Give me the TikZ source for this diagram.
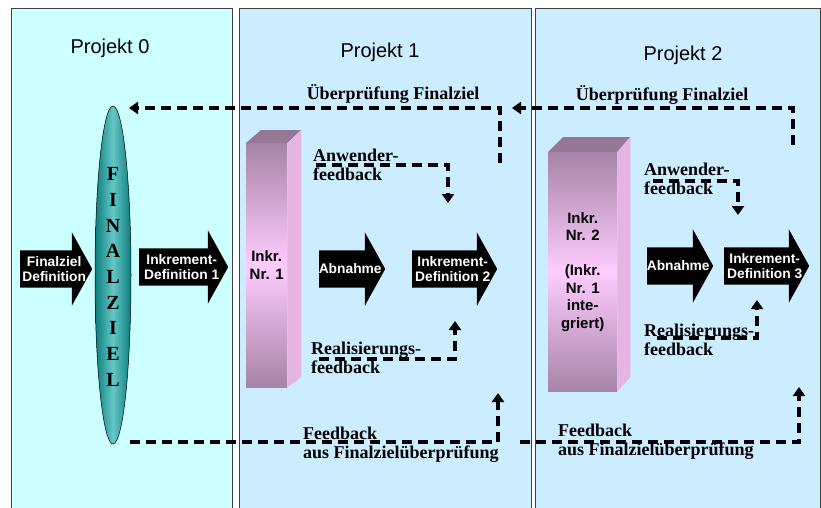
\documentclass[tikz,border=0pt]{standalone}
\usepackage{fontspec}
\setmainfont{Liberation Serif}
\setsansfont{Liberation Sans}
\usetikzlibrary{shapes.geometric,shapes.arrows,arrows.meta,positioning,calc}

\definecolor{pzero}{HTML}{CCFFFF}
\definecolor{pone}{HTML}{CCECFF}
\definecolor{tealdark}{HTML}{0A7E7E}
\definecolor{teallight}{HTML}{66C6C6}
\definecolor{barmauve}{HTML}{A684A6}
\definecolor{barpink}{HTML}{FFCCFF}
\definecolor{bartopcol}{HTML}{967896}
\definecolor{barsidecol}{HTML}{E4B4E2}

\tikzset{
  panel/.style={draw=black!75, line width=0.8pt, anchor=north west, minimum height=510pt, inner sep=0pt},
  title/.style={font=\sffamily\fontsize{20}{24}\selectfont, anchor=base},
  blkarrow/.style={single arrow, fill=black, inner xsep=0pt, inner ysep=18.5pt,
    single arrow head extend=18pt, single arrow tip angle=122, anchor=tail},
  arrtext/.style={text=white, align=center, inner sep=0pt, xshift=-2pt,
    font=\sffamily\bfseries\fontsize{13.8}{15.5}\selectfont},
  barfront/.style={top color=barmauve, bottom color=barmauve, middle color=barpink,
    anchor=north west, inner sep=0pt, align=center,
    font=\sffamily\bfseries\fontsize{15}{17.5}\selectfont},
  fblab/.style={align=left, inner sep=0pt, font=\rmfamily\bfseries\fontsize{18}{19}\selectfont},
  fbline/.style={line width=3.2pt, dash pattern=on 10pt off 6pt, -{Triangle[width=12pt,length=9pt]}}
}

\begin{document}
\begin{tikzpicture}[x=1pt,y=-1pt]
\useasboundingbox (0,0) rectangle (821,507);

% Projekte
\node[panel, fill=pzero, minimum width=221pt] (p0) at (11,8) {};
\node[panel, fill=pone, minimum width=292pt] (p1) at (239,8) {};
\node[panel, fill=pone, minimum width=285pt] (p2) at (535,8) {};
\node[title] (t0) at (110,53) {Projekt 0};
\node[title] (t1) at (380,57) {Projekt 1};
\node[title] (t2) at (683,60) {Projekt 2};

% Inkremente
\node[barfront, minimum width=41pt, minimum height=244pt] (bar1) at (246,143) {Inkr.\\Nr. 1};
\fill[bartopcol] (bar1.north west) -- ++(15,-13) -- ++(40,0) -- (bar1.north east) -- cycle;
\fill[barsidecol] (bar1.north east) -- ++(14,-13) -- ++(0,247) -- (bar1.south east) -- cycle;
\node[barfront, minimum width=69pt, minimum height=239pt] (bar2) at (548,152)
  {Inkr.\\Nr. 2\\[17.5pt](Inkr.\\Nr. 1\\inte-\\griert)};
\fill[bartopcol] (bar2.north west) -- ++(15,-15) -- ++(67,0) -- (bar2.north east) -- cycle;
\fill[barsidecol] (bar2.north east) -- ++(13,-15) -- ++(0,240) -- (bar2.south east) -- cycle;

% Finalziel
\node[ellipse, draw=black, line width=0.5pt, minimum width=36pt, minimum height=338pt,
  left color=tealdark, right color=tealdark, middle color=teallight] (fz) at (113,275) {};
\node[align=center, inner sep=0pt, font=\rmfamily\bfseries\fontsize{20}{25.7}\selectfont]
  (fzt) at (113,277) {F\\I\\N\\A\\L\\Z\\I\\E\\L};

% Blockpfeile
\node[blkarrow, minimum height=72pt] (fdef) at (20,269) {};
\node[arrtext] (fdeft) at ($(fdef.tail)!.5!(fdef.tip)$) {Finalziel\\Definition};
\node[blkarrow, minimum height=89pt] (idef1) at (139,267) {};
\node[arrtext] (idef1t) at ($(idef1.tail)!.5!(idef1.tip)$) {Inkrement-\\Definition 1};
\node[blkarrow, minimum height=66pt] (abn1) at (319,269) {};
\node[arrtext] (abn1t) at ($(abn1.tail)!.5!(abn1.tip)$) {Abnahme};
\node[blkarrow, minimum height=85pt] (idef2) at (412,269) {};
\node[arrtext] (idef2t) at ($(idef2.tail)!.5!(idef2.tip)$) {Inkrement-\\Definition 2};
\node[blkarrow, minimum height=66pt] (abn2) at (647,266) {};
\node[arrtext] (abn2t) at ($(abn2.tail)!.5!(abn2.tip)$) {Abnahme};
\node[blkarrow, minimum height=85pt] (idef3) at (724,266) {};
\node[arrtext] (idef3t) at ($(idef3.tail)!.5!(idef3.tip)$) {Inkrement-\\Definition 3};

% Rueckkopplungen
\coordinate (ueb1s) at (500,163);  \coordinate (ueb1e) at (129,108);
\coordinate (ueb2s) at (793,145);  \coordinate (ueb2e) at (512,108);
\coordinate (anw1s) at (316,165);  \coordinate (anw1e) at (448,203);
\coordinate (anw2s) at (653,181);  \coordinate (anw2e) at (738,215);
\coordinate (rea1s) at (319,359);  \coordinate (rea1e) at (455,321);
\coordinate (rea2s) at (657,338);  \coordinate (rea2e) at (757,300);
\coordinate (fbk1s) at (130,442);  \coordinate (fbk1e) at (498,393);
\coordinate (fbk2s) at (520,442);  \coordinate (fbk2e) at (799,387);
\draw[fbline] (ueb1s) |- (ueb1e);
\draw[fbline] (ueb2s) |- (ueb2e);
\draw[fbline] (anw1s) -| (anw1e);
\draw[fbline] (anw2s) -| (anw2e);
\draw[fbline] (rea1s) -| (rea1e);
\draw[fbline] (rea2s) -| (rea2e);
\draw[fbline] (fbk1s) -| (fbk1e);
\draw[fbline] (fbk2s) -| (fbk2e);

\node[fblab, anchor=base] (ueb1) at (393,99) {Überprüfung Finalziel};
\node[fblab, anchor=base] (ueb2) at (662,100) {Überprüfung Finalziel};
\node[fblab, anchor=west] (anw1) at (313,164.5) {Anwender-\\feedback};
\node[fblab, anchor=west] (anw2) at (644,179) {Anwender-\\feedback};
\node[fblab, anchor=west] (rea1) at (311,358) {Realisierungs-\\feedback};
\node[fblab, anchor=west] (rea2) at (644,340) {Realisierungs-\\feedback};
\node[fblab, anchor=west] (fbk1) at (303,444.5) {Feedback\\aus Finalzielüberprüfung};
\node[fblab, anchor=west] (fbk2) at (558,442) {Feedback\\aus Finalzielüberprüfung};
\end{tikzpicture}
\end{document}
